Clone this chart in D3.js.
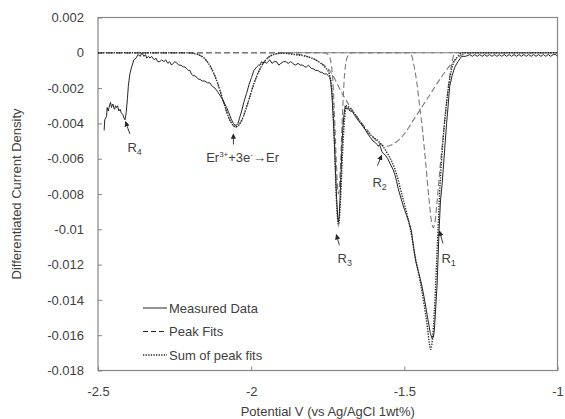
<!DOCTYPE html>
<meta charset="utf-8">
<script src="https://d3js.org/d3.v7.min.js"></script>
<style>
body { margin: 0; background: #fff; }
text { font-family: "Liberation Sans", Arial, sans-serif; fill: #404040; }
</style>
<div id="chart"></div>
<script>

// tick values for both axes
var xTicks = [-2.5, -2, -1.5, -1];
var yTicks = [0.002, 0, -0.002, -0.004, -0.006, -0.008, -0.01, -0.012, -0.014, -0.016, -0.018];

// measured data [potential, differentiated current density]
var measured = [
  [-2.480, -0.0044], [-2.478, -0.0038], [-2.475, -0.0037], [-2.472, -0.0036], [-2.470, -0.0031],
  [-2.467, -0.0033], [-2.464, -0.0031], [-2.461, -0.0029], [-2.459, -0.0028], [-2.456, -0.0031],
  [-2.454, -0.0030], [-2.451, -0.0029], [-2.449, -0.0031], [-2.446, -0.0032], [-2.443, -0.0030],
  [-2.440, -0.0031], [-2.436, -0.0030], [-2.432, -0.0033], [-2.428, -0.0032], [-2.424, -0.0034],
  [-2.419, -0.0035], [-2.415, -0.0037], [-2.412, -0.0038], [-2.408, -0.0034], [-2.404, -0.0026],
  [-2.401, -0.0019], [-2.396, -0.0012], [-2.390, -0.0008], [-2.383, -0.0004], [-2.376, -0.0003],
  [-2.369, -0.0001], [-2.362, -0.0002], [-2.357, 0.0000], [-2.350, -0.0002], [-2.345, -0.0001],
  [-2.341, -0.0003], [-2.335, -0.0002], [-2.330, -0.0003], [-2.325, -0.0002], [-2.321, -0.0003],
  [-2.316, -0.0004], [-2.311, -0.0003], [-2.305, -0.0005], [-2.298, -0.0005], [-2.292, -0.0004],
  [-2.285, -0.0005], [-2.279, -0.0004], [-2.272, -0.0006], [-2.266, -0.0005], [-2.260, -0.0007],
  [-2.255, -0.0006], [-2.249, -0.0005], [-2.242, -0.0006], [-2.236, -0.0007], [-2.229, -0.0007],
  [-2.222, -0.0008], [-2.216, -0.0008], [-2.211, -0.0009], [-2.205, -0.0010], [-2.200, -0.0010],
  [-2.195, -0.0012], [-2.190, -0.0013], [-2.184, -0.0013], [-2.177, -0.0014], [-2.172, -0.0015],
  [-2.167, -0.0015], [-2.160, -0.0016], [-2.151, -0.0016], [-2.143, -0.0017], [-2.135, -0.0017],
  [-2.127, -0.0019], [-2.118, -0.0020], [-2.110, -0.0022], [-2.102, -0.0024], [-2.095, -0.0026],
  [-2.089, -0.0028], [-2.080, -0.0031], [-2.073, -0.0034], [-2.064, -0.0038], [-2.058, -0.0040],
  [-2.053, -0.0041], [-2.047, -0.0041], [-2.043, -0.0040], [-2.038, -0.0037], [-2.031, -0.0033],
  [-2.024, -0.0028], [-2.015, -0.0023], [-2.007, -0.0018], [-1.999, -0.0014], [-1.991, -0.0010],
  [-1.982, -0.0008], [-1.976, -0.0007], [-1.971, -0.0007], [-1.966, -0.0005], [-1.961, -0.0006],
  [-1.955, -0.0005], [-1.950, -0.0006], [-1.945, -0.0005], [-1.939, -0.0004], [-1.932, -0.0006],
  [-1.925, -0.0005], [-1.917, -0.0005], [-1.910, -0.0007], [-1.903, -0.0006], [-1.895, -0.0005],
  [-1.887, -0.0005], [-1.879, -0.0006], [-1.871, -0.0005], [-1.864, -0.0006], [-1.856, -0.0007],
  [-1.847, -0.0006], [-1.839, -0.0007], [-1.831, -0.0007], [-1.825, -0.0008], [-1.819, -0.0008],
  [-1.813, -0.0007], [-1.808, -0.0008], [-1.803, -0.0009], [-1.798, -0.0009], [-1.790, -0.0010],
  [-1.782, -0.0010], [-1.775, -0.0011], [-1.769, -0.0011], [-1.762, -0.0012], [-1.754, -0.0012],
  [-1.748, -0.0013], [-1.743, -0.0014], [-1.740, -0.0017], [-1.737, -0.0022], [-1.733, -0.0034],
  [-1.729, -0.0048], [-1.725, -0.0066], [-1.721, -0.0083], [-1.718, -0.0092], [-1.715, -0.0096],
  [-1.713, -0.0093], [-1.710, -0.0083], [-1.707, -0.0069], [-1.704, -0.0055], [-1.701, -0.0043],
  [-1.697, -0.0035], [-1.693, -0.0030], [-1.690, -0.0031], [-1.686, -0.0032], [-1.683, -0.0031],
  [-1.678, -0.0033], [-1.672, -0.0033], [-1.667, -0.0034], [-1.660, -0.0036], [-1.652, -0.0038],
  [-1.643, -0.0040], [-1.634, -0.0042], [-1.626, -0.0044], [-1.619, -0.0046], [-1.611, -0.0048],
  [-1.602, -0.0050], [-1.594, -0.0051], [-1.589, -0.0052], [-1.585, -0.0053], [-1.581, -0.0052],
  [-1.577, -0.0054], [-1.573, -0.0056], [-1.569, -0.0057], [-1.562, -0.0058], [-1.554, -0.0060],
  [-1.546, -0.0063], [-1.537, -0.0066], [-1.531, -0.0069], [-1.525, -0.0073], [-1.520, -0.0077],
  [-1.515, -0.0080], [-1.510, -0.0083], [-1.505, -0.0086], [-1.499, -0.0089], [-1.493, -0.0092],
  [-1.485, -0.0096], [-1.477, -0.0101], [-1.470, -0.0110], [-1.463, -0.0118], [-1.454, -0.0124],
  [-1.444, -0.0131], [-1.436, -0.0138], [-1.428, -0.0146], [-1.421, -0.0153], [-1.415, -0.0159],
  [-1.409, -0.0162], [-1.405, -0.0161], [-1.402, -0.0157], [-1.399, -0.0149], [-1.396, -0.0140],
  [-1.393, -0.0131], [-1.390, -0.0117], [-1.387, -0.0102], [-1.382, -0.0084], [-1.377, -0.0075],
  [-1.373, -0.0066], [-1.368, -0.0054], [-1.362, -0.0040], [-1.357, -0.0030], [-1.352, -0.0019],
  [-1.344, -0.0013], [-1.335, -0.0008], [-1.325, -0.0005], [-1.313, -0.0002], [-1.300, -0.0002],
  [-1.286, -0.0001], [-1.278, -0.0002], [-1.270, -0.0001], [-1.262, -0.0002], [-1.254, -0.0001],
  [-1.246, -0.0002], [-1.238, -0.0001], [-1.230, -0.0002], [-1.222, -0.0001], [-1.214, -0.0002],
  [-1.206, -0.0001], [-1.198, -0.0002], [-1.190, -0.0001], [-1.182, -0.0002], [-1.174, -0.0001],
  [-1.166, -0.0002], [-1.158, -0.0001], [-1.150, -0.0002], [-1.142, -0.0001], [-1.134, -0.0002],
  [-1.126, -0.0001], [-1.118, -0.0002], [-1.110, -0.0001], [-1.102, -0.0002], [-1.094, -0.0001],
  [-1.086, -0.0002], [-1.078, -0.0001], [-1.070, -0.0002], [-1.062, -0.0001], [-1.054, -0.0002],
  [-1.046, -0.0001], [-1.038, -0.0002], [-1.030, -0.0001], [-1.022, -0.0002], [-1.014, -0.0001],
  [-1.006, -0.0001], [-1.000, -0.0002]
];

// individual peak fits
var fitEr = [
  [-2.5, 0], [-2.21, 0], [-2.19, -0.00003], [-2.17, -0.00012], [-2.15, -0.00036], [-2.13, -0.00087],
  [-2.11, -0.0017], [-2.09, -0.0028], [-2.07, -0.0038], [-2.05, -0.0042], [-2.03, -0.0038],
  [-2.01, -0.0028], [-1.99, -0.0017], [-1.97, -0.00087], [-1.95, -0.00036], [-1.93, -0.00012],
  [-1.91, -0.00003], [-1.89, 0], [-1.0, 0]
];
var fitR3 = [
  [-2.5, 0], [-1.76, 0], [-1.745, -0.0002], [-1.735, -0.0012], [-1.728, -0.0035], [-1.722, -0.0062],
  [-1.718, -0.0076], [-1.715, -0.0080], [-1.712, -0.0076], [-1.708, -0.0062], [-1.702, -0.0035],
  [-1.695, -0.0012], [-1.685, -0.0002], [-1.67, 0], [-1.0, 0]
];
var fitR2 = [
  [-2.5, 0], [-1.90, 0], [-1.86, -0.00005], [-1.82, -0.0002], [-1.78, -0.0005], [-1.74, -0.0011],
  [-1.70, -0.0024], [-1.66, -0.0035], [-1.62, -0.0044], [-1.59, -0.0050], [-1.56, -0.0053],
  [-1.53, -0.0051], [-1.50, -0.0046], [-1.47, -0.0038], [-1.44, -0.0030], [-1.41, -0.0022],
  [-1.38, -0.0014], [-1.35, -0.0007], [-1.32, -0.0002], [-1.29, 0], [-1.0, 0]
];
var fitR1 = [
  [-2.5, 0], [-1.48, 0], [-1.47, -0.0006], [-1.46, -0.0016], [-1.45, -0.0030], [-1.44, -0.0045],
  [-1.43, -0.0063], [-1.42, -0.0082], [-1.412, -0.0095], [-1.406, -0.0099], [-1.400, -0.0096],
  [-1.394, -0.0086], [-1.385, -0.0068], [-1.375, -0.0050], [-1.365, -0.0033], [-1.355, -0.0017],
  [-1.345, -0.0006], [-1.335, 0], [-1.0, 0]
];

// sum of peak fits
var fitSum = [
  [-2.5, 0], [-2.21, 0], [-2.19, -0.00003], [-2.17, -0.00012], [-2.15, -0.00036], [-2.13, -0.00087],
  [-2.11, -0.0017], [-2.09, -0.0028], [-2.07, -0.0038], [-2.05, -0.0042], [-2.03, -0.0038],
  [-2.01, -0.0028], [-1.99, -0.0017], [-1.97, -0.00087], [-1.95, -0.00036], [-1.93, -0.00012],
  [-1.90, -0.00002], [-1.86, -0.0001], [-1.82, -0.0002], [-1.78, -0.0005], [-1.76, -0.0008],
  [-1.745, -0.0012], [-1.735, -0.0025], [-1.728, -0.0052], [-1.722, -0.0082], [-1.718, -0.0094],
  [-1.715, -0.0098], [-1.712, -0.0094], [-1.708, -0.0082], [-1.702, -0.0058], [-1.695, -0.0037],
  [-1.688, -0.0030], [-1.68, -0.0031], [-1.67, -0.0033], [-1.66, -0.0035], [-1.64, -0.0040],
  [-1.62, -0.0045], [-1.60, -0.0048], [-1.585, -0.0050], [-1.57, -0.0053], [-1.555, -0.0057],
  [-1.54, -0.0062], [-1.525, -0.0069], [-1.51, -0.0079], [-1.495, -0.0089], [-1.48, -0.0100],
  [-1.465, -0.0115], [-1.45, -0.0128], [-1.435, -0.0143], [-1.425, -0.0155], [-1.418, -0.0165],
  [-1.414, -0.0168], [-1.410, -0.0165], [-1.405, -0.0155], [-1.40, -0.0140], [-1.395, -0.0120],
  [-1.39, -0.0100], [-1.385, -0.0080], [-1.378, -0.0060], [-1.37, -0.0042], [-1.36, -0.0025],
  [-1.35, -0.0013], [-1.34, -0.0006], [-1.325, -0.0002], [-1.31, 0], [-1.0, 0]
];

// peak labels: arrow head, arrow tail, label anchor (data units)
var peakLabels = [
  {name: "R", sub: "4", head: [-2.410, -0.0039], tail: [-2.396, -0.0046], at: [-2.404, -0.0056]},
  {name: "R", sub: "3", head: [-1.722, -0.0103], tail: [-1.712, -0.0109], at: [-1.718, -0.0119]},
  {name: "R", sub: "2", head: [-1.574, -0.0058], tail: [-1.588, -0.0064], at: [-1.604, -0.0076]},
  {name: "R", sub: "1", head: [-1.385, -0.0101], tail: [-1.374, -0.0108], at: [-1.379, -0.0119]}
];
var erLabel = {head: [-2.058, -0.0046], tail: [-2.058, -0.0052], at: [-2.147, -0.0062]};

var legendItems = ["Measured Data", "Peak Fits", "Sum of peak fits"];

var width = 565, height = 419;
var margin = {top: 17.5, right: 7.5, bottom: 48.5, left: 98};

var svg = d3.select("#chart").append("svg")
    .attr("width", width)
    .attr("height", height);

var x = d3.scaleLinear()
    .domain([-2.5, -1])
    .range([margin.left, width - margin.right]);

var y = d3.scaleLinear()
    .domain([-0.018, 0.002])
    .range([height - margin.bottom, margin.top]);

var fmt = function(d) { return String(+d.toFixed(3)); };

// frame
svg.append("rect")
    .attr("x", x(-2.5))
    .attr("y", y(0.002))
    .attr("width", x(-1) - x(-2.5))
    .attr("height", y(-0.018) - y(0.002))
    .attr("fill", "none")
    .attr("stroke", "#868686")
    .attr("stroke-width", 1.2);

// y axis
var yAxis = svg.append("g")
    .attr("transform", "translate(" + x(-2.5) + ",0)")
    .call(d3.axisLeft(y).tickValues(yTicks).tickFormat(fmt).tickSize(-4).tickPadding(14));

// x axis
var xAxis = svg.append("g")
    .attr("transform", "translate(0," + y(-0.018) + ")")
    .call(d3.axisBottom(x).tickValues(xTicks).tickFormat(fmt).tickSize(-4).tickPadding(16));

[yAxis, xAxis].forEach(function(g) {
  g.select(".domain").remove();
  g.selectAll("line").attr("stroke", "#868686");
  g.selectAll("text").style("font-size", "13px").attr("fill", "#404040")
    .style("font-family", "'Liberation Sans', Arial, sans-serif");
});

// axis titles
svg.append("text")
    .attr("x", (x(-2.5) + x(-1)) / 2)
    .attr("y", 416)
    .attr("text-anchor", "middle")
    .style("font-size", "13px")
    .text("Potential V (vs Ag/AgCl 1wt%)");

svg.append("text")
    .attr("transform", "translate(21," + ((y(0.002) + y(-0.018)) / 2) + ")rotate(-90)")
    .attr("text-anchor", "middle")
    .style("font-size", "13px")
    .text("Differentiated Current Density");

var line = d3.line().x(function(d) { return x(d[0]); }).y(function(d) { return y(d[1]); });
var smooth = d3.line().curve(d3.curveMonotoneX)
    .x(function(d) { return x(d[0]); }).y(function(d) { return y(d[1]); });

// peak fits (dashed)
[fitEr, fitR3, fitR2, fitR1].forEach(function(f) {
  svg.append("path")
      .datum(f)
      .attr("d", smooth)
      .attr("fill", "none")
      .attr("stroke", "#7a7a7a")
      .attr("stroke-width", 1.1)
      .attr("stroke-dasharray", "6,3");
});

// measured data
svg.append("path")
    .datum(measured)
    .attr("d", line)
    .attr("fill", "none")
    .attr("stroke", "#262626")
    .attr("stroke-width", 1);

// sum of peak fits (dotted)
svg.append("path")
    .datum(fitSum)
    .attr("d", smooth)
    .attr("fill", "none")
    .attr("stroke", "#262626")
    .attr("stroke-width", 1.4)
    .attr("stroke-dasharray", "1.3,1.3");

// arrows
svg.append("defs").append("marker")
    .attr("id", "head")
    .attr("viewBox", "0 0 10 10")
    .attr("refX", 9).attr("refY", 5)
    .attr("markerWidth", 6).attr("markerHeight", 6)
    .attr("orient", "auto")
  .append("path")
    .attr("d", "M0,0L10,5L0,10z")
    .attr("fill", "#262626");

function arrow(a) {
  svg.append("line")
      .attr("x1", x(a.tail[0])).attr("y1", y(a.tail[1]))
      .attr("x2", x(a.head[0])).attr("y2", y(a.head[1]))
      .attr("stroke", "#262626")
      .attr("stroke-width", 0.9)
      .attr("marker-end", "url(#head)");
}

peakLabels.forEach(function(p) {
  arrow(p);
  var t = svg.append("text")
      .attr("x", x(p.at[0]))
      .attr("y", y(p.at[1]))
      .style("font-size", "13px");
  t.append("tspan").text(p.name);
  t.append("tspan").attr("dy", 3).style("font-size", "9px").text(p.sub);
});

arrow(erLabel);
var et = svg.append("text")
    .attr("x", x(erLabel.at[0]))
    .attr("y", y(erLabel.at[1]))
    .style("font-size", "13px");
et.append("tspan").text("Er");
et.append("tspan").attr("dy", -5).style("font-size", "8px").text("3+");
et.append("tspan").attr("dy", 5).text("+3e");
et.append("tspan").attr("dy", -5).style("font-size", "8px").text("-");
et.append("tspan").attr("dy", 5).text("\u2192Er");

// legend
var legend = svg.append("g").attr("transform", "translate(143,308)");
var legendStyles = [
  {stroke: "#262626", dash: null, w: 1},
  {stroke: "#262626", dash: "5,3", w: 1},
  {stroke: "#262626", dash: "1.3,1.3", w: 1.4}
];
legendItems.forEach(function(name, i) {
  var row = legend.append("g").attr("transform", "translate(0," + (i * 23.5) + ")");
  row.append("line")
      .attr("x1", 0).attr("x2", 24)
      .attr("stroke", legendStyles[i].stroke)
      .attr("stroke-width", legendStyles[i].w)
      .attr("stroke-dasharray", legendStyles[i].dash);
  row.append("text")
      .attr("x", 26)
      .attr("dy", "0.35em")
      .style("font-size", "13px")
      .text(name);
});

</script>
